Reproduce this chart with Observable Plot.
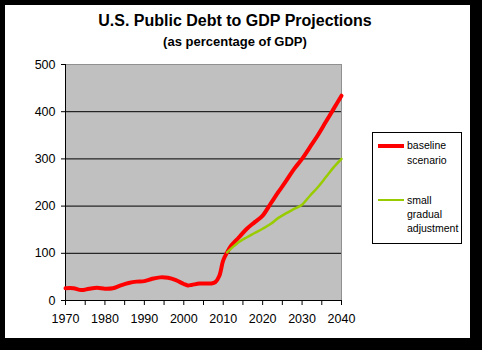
<!DOCTYPE html>
<html>
<head>
<meta charset="utf-8">
<script src="https://cdn.jsdelivr.net/npm/d3@7"></script>
<script src="https://cdn.jsdelivr.net/npm/@observablehq/plot@0.6"></script>
<style>
  html, body { margin: 0; padding: 0; background: #000; }
  body { width: 482px; height: 350px; position: relative; overflow: hidden; font-family: "Liberation Sans", Arial, sans-serif; }
  #panel { position: absolute; left: 5px; top: 5px; width: 465px; height: 333px; background: #fff; }
  #title { position: absolute; left: 0; top: 7px; width: 460px; text-align: center; font-size: 16px; line-height: 18px; font-weight: bold; color: #000; }
  #subtitle { position: absolute; left: 0; top: 29px; width: 460px; text-align: center; font-size: 13px; line-height: 15px; font-weight: bold; color: #000; }
  #chart { position: absolute; left: 0; top: 50px; }
  #legend { position: absolute; left: 367px; top: 127px; width: 90px; height: 112px; box-sizing: border-box; border: 1px solid #000; background: #fff; }
  .entry { position: absolute; left: 0; width: 88px; }
  .swatch { position: absolute; left: 5px; width: 26px; }
  .label { position: absolute; left: 34px; font-size: 10.5px; color: #000; white-space: nowrap; }
</style>
</head>
<body>
<div id="panel">
  <div id="title"></div>
  <div id="subtitle"></div>
  <div id="chart"></div>
  <div id="legend"></div>
</div>
<script>
const titleText = "U.S. Public Debt to GDP Projections";
const subtitleText = "(as percentage of GDP)";

const seriesNames = ["baseline scenario", "small gradual adjustment"];
const seriesLabelLines = [["baseline", "scenario"], ["small", "gradual", "adjustment"]];
const seriesColors = ["#ff0000", "#99cc00"];

const baselineYears = [1970, 1972, 1974, 1976, 1978, 1980, 1982, 1984, 1986, 1988, 1990, 1992, 1994, 1996, 1998, 2000, 2001, 2002, 2004, 2006, 2007, 2008, 2009, 2010, 2011, 2012, 2014, 2016, 2018, 2020, 2022, 2024, 2026, 2028, 2030, 2032, 2034, 2036, 2038, 2040];
const baselineValues = [26, 26, 22, 25, 27, 25, 26, 32, 37, 40, 41, 46, 49, 48, 43, 35, 32, 33, 36, 36, 36, 39, 52, 85, 102, 116, 134, 152, 166, 180, 205, 230, 254, 279, 300, 325, 350, 378, 406, 434];

const adjustYears = [2011, 2012, 2014, 2016, 2018, 2020, 2022, 2024, 2026, 2028, 2030, 2032, 2034, 2036, 2038, 2040];
const adjustValues = [102, 110, 124, 134, 143, 152, 162, 175, 185, 194, 203, 222, 240, 261, 282, 300];

const xTicks = [1970, 1975, 1980, 1985, 1990, 1995, 2000, 2005, 2010, 2015, 2020, 2025, 2030, 2035, 2040];
const yTicks = [0, 100, 200, 300, 400, 500];
const gridValues = [100, 200, 300, 400];

const baseline = baselineYears.map((year, i) => ({year, value: baselineValues[i], series: seriesNames[0]}));
const adjust = adjustYears.map((year, i) => ({year, value: adjustValues[i], series: seriesNames[1]}));

document.getElementById("title").textContent = titleText;
document.getElementById("subtitle").textContent = subtitleText;

const chart = Plot.plot({
  width: 465,
  height: 283,
  marginLeft: 60,
  marginRight: 129,
  marginTop: 9,
  marginBottom: 38,
  x: {domain: [1970, 2040]},
  y: {domain: [0, 500]},
  style: {fontFamily: "'Liberation Sans', Arial, sans-serif", fontSize: "12.5px", color: "#000", background: "transparent", overflow: "visible"},
  marks: [
    Plot.frame({fill: "#c0c0c0", stroke: "#909090"}),
    Plot.ruleY(gridValues, {stroke: "#000", strokeWidth: 1}),
    Plot.axisY({ticks: yTicks, tickSize: 4, tickPadding: 6, label: null, stroke: "#000"}),
    Plot.axisX({ticks: xTicks, tickSize: 5, tickPadding: 9, label: null, stroke: "#000", tickFormat: d => d % 10 === 0 ? String(d) : ""}),
    Plot.ruleX([1970], {stroke: "#000"}),
    Plot.ruleY([0], {stroke: "#000"}),
    Plot.line(baseline, {x: "year", y: "value", stroke: seriesColors[0], strokeWidth: 4, curve: "catmull-rom"}),
    Plot.line(adjust, {x: "year", y: "value", stroke: seriesColors[1], strokeWidth: 2.5, curve: "catmull-rom"})
  ]
});
document.getElementById("chart").appendChild(chart);

// Legend
const legend = document.getElementById("legend");
const entryTops = [5, 60];
const lineHeights = [15, 14];
seriesNames.forEach((name, i) => {
  const e = document.createElement("div");
  e.className = "entry";
  e.style.top = entryTops[i] + "px";
  const sw = document.createElement("div");
  sw.className = "swatch";
  const lh = lineHeights[i];
  const thick = i === 0 ? 4 : 2.5;
  sw.style.top = (lh / 2 - thick / 2) + "px";
  sw.style.height = thick + "px";
  sw.style.background = seriesColors[i];
  e.appendChild(sw);
  seriesLabelLines[i].forEach((txt, j) => {
    const l = document.createElement("div");
    l.className = "label";
    l.style.top = (j * lh) + "px";
    l.style.lineHeight = lh + "px";
    l.textContent = txt;
    e.appendChild(l);
  });
  legend.appendChild(e);
});
</script>
</body>
</html>
